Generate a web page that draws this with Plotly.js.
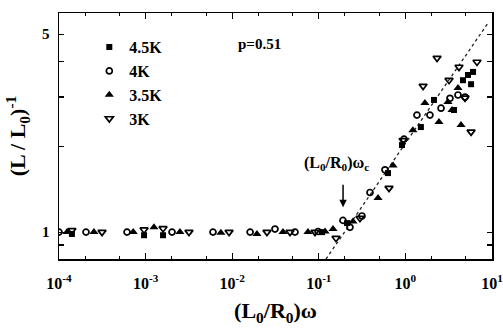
<!DOCTYPE html>
<html>
<head>
<meta charset="utf-8">
<script src="https://cdn.plot.ly/plotly-3.0.1.min.js"></script>
<style>html,body{margin:0;padding:0;background:#fff;}#chart{width:503px;height:330px;}</style>
</head>
<body>
<div id="chart"></div>
<script>
// 4.5K (filled squares)
const x45 = [1.41e-4, 9.6e-4, 1.59e-3, 0.109, 0.212, 0.630, 0.914, 1.51, 2.14, 3.64, 4.62, 5.28, 6.04, 5.73];
const y45 = [0.985, 0.975, 0.975, 1.00, 1.076, 1.616, 2.03, 2.35, 2.93, 2.70, 3.44, 3.59, 3.68, 3.33];
// 4K (open circles)
const x4 = [1.0e-4, 2.05e-4, 6.1e-4, 2.02e-3, 6.0e-3, 0.0161, 0.0312, 0.0531, 0.098, 0.190, 0.229, 0.315, 0.390, 0.581, 0.964, 1.36, 1.92, 2.58, 3.27, 4.05, 4.88];
const y4 = [1.0, 1.0, 1.0, 1.0, 1.0, 1.0, 1.025, 1.0, 1.005, 1.10, 1.04, 1.14, 1.38, 1.66, 2.13, 2.59, 2.59, 2.74, 2.97, 3.05, 3.00];
// 3.5K (filled triangles)
const x35 = [1.24e-4, 2.53e-4, 7.2e-4, 1.25e-3, 2.49e-3, 7.4e-3, 0.0193, 0.0386, 0.075, 0.118, 0.146, 0.248, 0.483, 0.720, 1.22, 1.68, 2.44, 3.10, 3.45, 4.05, 4.39];
const y35 = [1.0, 1.0, 1.0, 1.04, 1.0, 0.995, 0.985, 1.0, 1.0, 1.005, 1.025, 1.09, 1.32, 1.72, 2.29, 2.86, 2.45, 2.88, 2.70, 3.23, 2.39];
// 3K (open inverted triangles)
const x3 = [1.41e-4, 3.14e-4, 9.6e-4, 1.59e-3, 3.17e-3, 9.2e-3, 0.0252, 0.0465, 0.0904, 0.158, 0.299, 0.647, 0.94, 1.60, 2.32, 3.19, 4.16, 6.71, 5.73, 4.88];
const y3 = [1.015, 1.0, 1.02, 1.03, 1.0, 1.0, 1.0, 1.0, 1.0, 0.952, 1.12, 1.43, 2.11, 3.28, 4.12, 3.44, 3.83, 3.99, 2.26, 2.98];
// power-law guide line
const fitX = [0.121, 9.0];
const fitY = [0.803, 5.48];
// axis ticks
const xTickVals = [1e-4, 1e-3, 1e-2, 1e-1, 1, 10];
const xTickText = ['10<sup>-4</sup>', '10<sup>-3</sup>', '10<sup>-2</sup>', '10<sup>-1</sup>', '10<sup>0</sup>', '10<sup>1</sup>'];
const yTickVals = [0.9, 1, 2, 3, 4, 5];
const yTickText = ['', '1', '', '', '', '5'];

const F = 'Liberation Serif, Times New Roman, serif';
const mk = (sym, size, filled) => ({symbol: sym, size: size, color: '#000', line: {color: '#000', width: filled ? 0 : 1.7}});

const traces = [
  {x: fitX, y: fitY, mode: 'lines', line: {color: '#222', width: 1.3, dash: 'dot'}, showlegend: false, hoverinfo: 'skip'},
  {x: x45, y: y45, name: '4.5K', mode: 'markers', marker: mk('square', 6, true), legendgroup: 'a'},
  {x: x4, y: y4, name: '4K', mode: 'markers', marker: mk('circle-open', 6, false), legendgroup: 'b'},
  {x: x35, y: y35, name: '3.5K', mode: 'markers', marker: mk('triangle-up', 8, true), legendgroup: 'c'},
  {x: x3, y: y3, name: '3K', mode: 'markers', marker: mk('triangle-down-open', 7, false), legendgroup: 'd'}
];

const layout = {
  width: 503, height: 330,
  margin: {l: 59, r: 11, t: 13, b: 71},
  paper_bgcolor: '#fff', plot_bgcolor: '#fff',
  font: {family: F, color: '#000', size: 14, weight: 'bold'},
  showlegend: true,
  legend: {x: 0.07, y: 0.93, xanchor: 'left', yanchor: 'top', bgcolor: 'rgba(0,0,0,0)', font: {family: F, size: 16, color: '#000', weight: 'bold'}, tracegroupgap: 3, traceorder: 'normal'},
  xaxis: {
    type: 'log', range: [-4, 1],
    tickvals: xTickVals, ticktext: xTickText,
    ticks: 'inside', ticklen: 6, tickwidth: 1.2, tickcolor: '#000',
    minor: {ticks: 'inside', ticklen: 3, tickwidth: 1, tickcolor: '#000', showgrid: false},
    showline: true, linecolor: '#000', linewidth: 1.5, mirror: 'allticks',
    showgrid: false, zeroline: false,
    ticklabelstandoff: 9,
    ticklabeloverflow: 'allow',
    tickfont: {family: F, size: 16, color: '#000', weight: 'bold'},
    title: {text: '(L<sub>0</sub>/R<sub>0</sub>)ω', font: {family: F, size: 22, color: '#000', weight: 'bold'}, standoff: 12}
  },
  yaxis: {
    type: 'log', range: [-0.095, 0.774],
    tickvals: yTickVals, ticktext: yTickText,
    ticks: 'inside', ticklen: 5, tickwidth: 1.2, tickcolor: '#000',
    showline: true, linecolor: '#000', linewidth: 1.5, mirror: 'allticks',
    showgrid: false, zeroline: false,
    ticklabelstandoff: 5,
    tickfont: {family: F, size: 15, color: '#000', weight: 'bold'},
    title: {text: '(L / L<sub>0</sub>)<sup>-1</sup>', font: {family: F, size: 22, color: '#000', weight: 'bold'}, standoff: 10}
  },
  annotations: [
    {x: -1.69, y: 0.664, xref: 'x', yref: 'y', text: 'p=0.51', showarrow: false, font: {family: F, size: 15, color: '#000', weight: 'bold'}},
    {x: -0.79, y: 0.244, xref: 'x', yref: 'y', text: '(L<sub>0</sub>/R<sub>0</sub>)ω<sub>c</sub>', showarrow: false, font: {family: F, size: 16, color: '#000', weight: 'bold'}},
    {x: -0.72, y: 0.088, xref: 'x', yref: 'y', text: '', showarrow: true, ax: 0, ay: -24, arrowhead: 2, arrowsize: 1, arrowwidth: 1.5, arrowcolor: '#000'}
  ]
};

Plotly.newPlot('chart', traces, layout, {displayModeBar: false, staticPlot: true});
</script>
</body>
</html>
